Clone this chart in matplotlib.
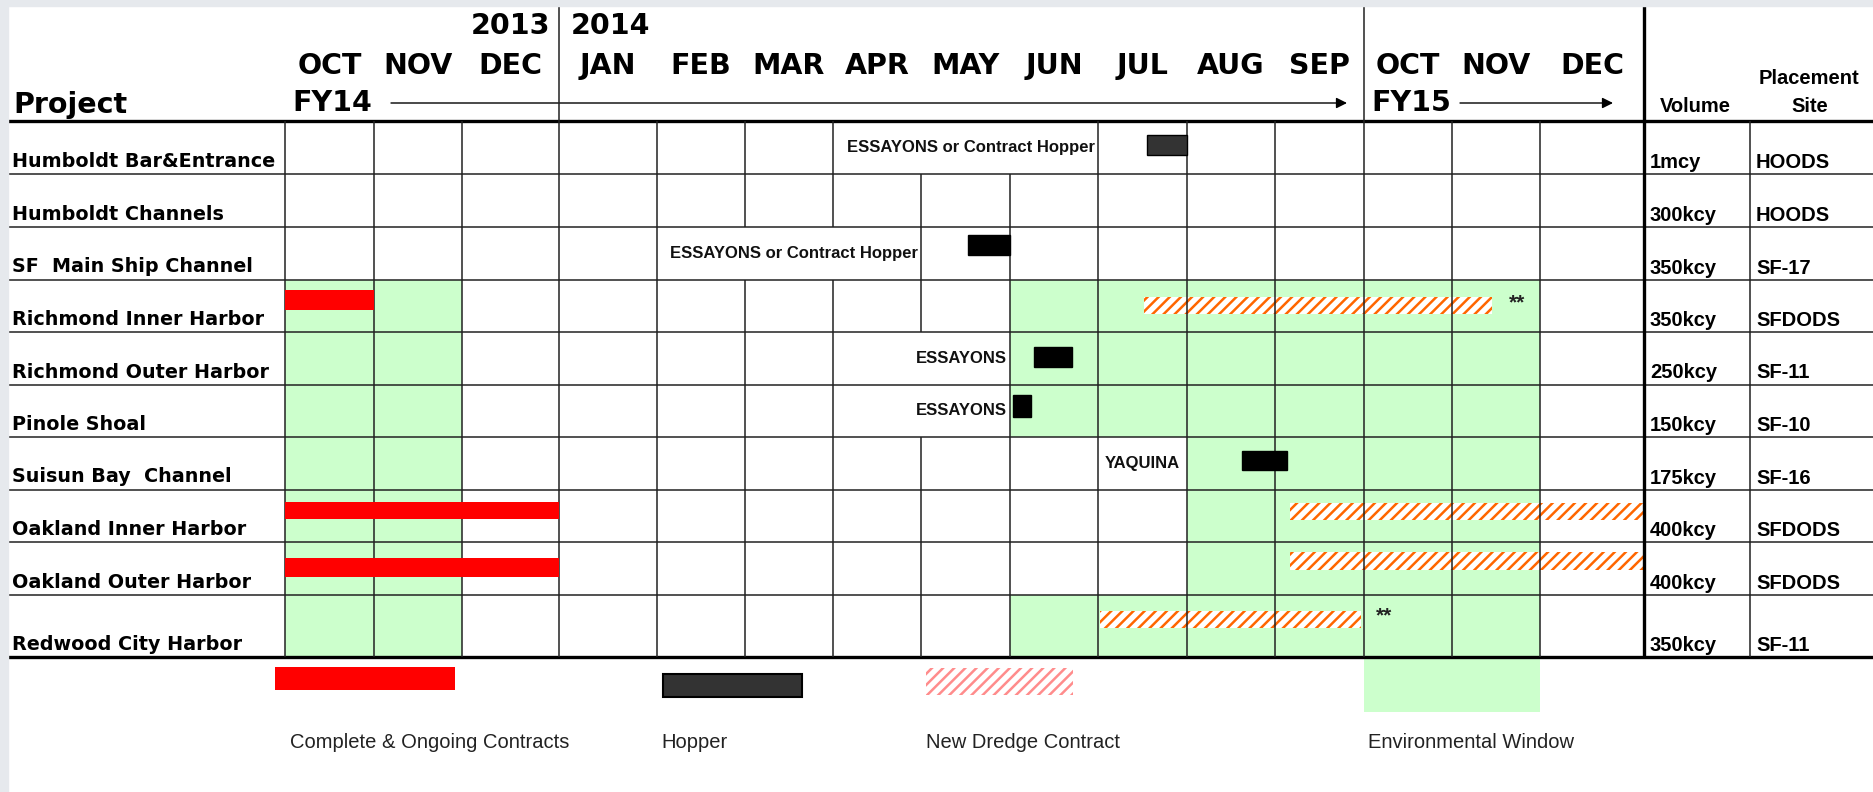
import numpy as np
import matplotlib
matplotlib.use('Agg')
import matplotlib.pyplot as plt
from matplotlib.patches import Rectangle

plt.rcParams['hatch.linewidth'] = 1.8

# --- schedule data (x in months from 1 Oct 2013, rows top to bottom) ---
months = ['OCT', 'NOV', 'DEC', 'JAN', 'FEB', 'MAR', 'APR', 'MAY', 'JUN',
          'JUL', 'AUG', 'SEP', 'OCT', 'NOV', 'DEC']
projects = ['Humboldt Bar&Entrance', 'Humboldt Channels', 'SF  Main Ship Channel',
            'Richmond Inner Harbor', 'Richmond Outer Harbor', 'Pinole Shoal',
            'Suisun Bay  Channel', 'Oakland Inner Harbor', 'Oakland Outer Harbor',
            'Redwood City Harbor']
volumes = ['1mcy', '300kcy', '350kcy', '350kcy', '250kcy', '150kcy', '175kcy',
           '400kcy', '400kcy', '350kcy']
sites = ['HOODS', 'HOODS', 'SF-17', 'SFDODS', 'SF-11', 'SF-10', 'SF-16',
         'SFDODS', 'SFDODS', 'SF-11']

env_rows = [3, 3, 4, 4, 5, 5, 6, 6, 7, 7, 8, 8, 9, 9]
env_start = [0, 8, 0, 8, 0, 8, 0, 10, 0, 10, 0, 10, 0, 8]
env_end = [2, 14, 2, 14, 2, 14, 2, 14, 2, 14, 2, 14, 2, 14]

contract_rows = [3, 7, 8]
contract_start = [0, 0, 0]
contract_end = [1, 3, 3]

hopper_rows = [0, 2, 4, 5, 6]
hopper_start = [9.55, 7.53, 8.27, 8.03, 10.62]
hopper_end = [10.0, 8.0, 8.70, 8.24, 11.13]
hopper_names = ['ESSAYONS or Contract Hopper', 'ESSAYONS or Contract Hopper',
                'ESSAYONS', 'ESSAYONS', 'YAQUINA']

new_rows = [3, 7, 8, 9]
new_start = [9.52, 11.17, 11.17, 9.02]
new_end = [13.45, 15.0, 15.0, 11.97]
new_notes = ['**', '', '', '**']

# --- layout (pixel grid of the table) ---
W, H = 1874, 792
col_m = np.arange(-1, 18)
col_px = np.array([8, 285, 374, 462, 559, 657, 745, 833, 921, 1010, 1098, 1187,
                   1275, 1364, 1452, 1540, 1644, 1750, 1874], float)
row_m = np.array([-2.3, 0, 1, 2, 3, 4, 5, 6, 7, 8, 9, 10, 12.57])
row_px = np.array([0, 121, 174, 227, 279.5, 332, 384.5, 437, 489.5, 542, 595, 657, 792])


def ypx(p):
    return np.interp(p, row_px, row_m)


hopper_y = [(0.26, 0.64), (0.15, 0.53), (0.28, 0.66), (0.20, 0.61), (0.26, 0.63)]
hopper_fc = ['#333333', 'black', 'black', 'black', 'black']
# label anchor: (x, ha, pixel offset)
hopper_lab = [(9, 'right', -3), (7, 'right', -3), (8, 'right', -3),
              (8, 'right', -3), (9, 'left', 7)]
contract_y = [(0.20, 0.58), (0.23, 0.57), (0.31, 0.66)]
new_y = [(0.33, 0.66), (0.25, 0.59), (0.18, 0.53), (0.25, 0.54)]
note_x = [13.65, None, None, 12.13]
merged = {(0, 7), (0, 8), (2, 5), (2, 6), (4, 7), (5, 7)}

GREEN = '#CCFFCC'
RED = '#FF0000'
ORANGE = '#FF6600'
HEAD = dict(family='DejaVu Sans', fontweight='bold', fontsize=20.5)
LAB = dict(family='DejaVu Sans', fontweight='bold', fontsize=13.8)
ARB = dict(family='Liberation Sans', fontweight='bold')

fig = plt.figure(figsize=(W / 100, H / 100), dpi=100)
fig.patches.append(Rectangle((0, 0), 8 / W, 1, transform=fig.transFigure,
                             color='#e6e9ed', zorder=0))
fig.patches.append(Rectangle((0, 1 - 6 / H), 1, 6 / H, transform=fig.transFigure,
                             color='#e6e9ed', zorder=0))

lay = fig.add_axes([0, 0, 1, 1])
lay.set_xlim(0, W)
lay.set_ylim(H, 0)
lay.axis('off')
lay.patch.set_visible(False)

ax = fig.add_axes([8 / W, 0, (W - 8) / W, 1])
ax.set_xscale('function', functions=(lambda v: np.interp(v, col_m, col_px),
                                     lambda p: np.interp(p, col_px, col_m)))
ax.set_yscale('function', functions=(lambda v: np.interp(v, row_m, row_px),
                                     lambda p: np.interp(p, row_px, row_m)))
ax.set_xlim(-1, 17)
ax.set_ylim(row_m[-1], row_m[0])
ax.axis('off')
ax.patch.set_visible(False)

# environmental windows
for r, s, e in zip(env_rows, env_start, env_end):
    ax.add_patch(Rectangle((s, r), e - s, 1, fc=GREEN, ec='none', zorder=1))

# new dredge contracts (hatched)
for r, s, e, (t, b), note, nx in zip(new_rows, new_start, new_end, new_y, new_notes, note_x):
    ax.add_patch(Rectangle((s, r + t), e - s, b - t, fc='white', ec=ORANGE,
                           hatch='///', lw=0, zorder=2))
    if note:
        ax.text(nx, r + (t + b) / 2 - 0.05, note, ha='left', va='center',
                fontsize=15, color='#222222', zorder=5, **ARB)

# grid lines
lc = '#222222'
ax.hlines(np.arange(1, 10), -1, 17, color=lc, lw=1.1, zorder=3)
ax.hlines([0, 10], -1, 17, color='black', lw=2.4, zorder=3)
for x in range(0, 15):
    for r in range(10):
        if (r, x) in merged:
            continue
        ax.vlines(x, r, r + 1, color=lc, lw=1.1, zorder=3)
ax.vlines([3, 12], ypx(5), 0, color=lc, lw=1.1, zorder=3)
ax.vlines(15, ypx(5), 10, color='black', lw=2.4, zorder=3)
ax.vlines(16, 0, 10, color=lc, lw=1.1, zorder=3)
ax.vlines(-1, 9, 10, color=lc, lw=1.1, zorder=3)

# complete & ongoing contracts
for r, s, e, (t, b) in zip(contract_rows, contract_start, contract_end, contract_y):
    ax.add_patch(Rectangle((s, r + t), e - s, b - t, fc=RED, ec='none', zorder=4))

# hopper dredges
for r, s, e, (t, b), fc, name, (lx, ha, off) in zip(hopper_rows, hopper_start, hopper_end,
                                                    hopper_y, hopper_fc, hopper_names,
                                                    hopper_lab):
    ax.add_patch(Rectangle((s, r + t), e - s, b - t, fc=fc, ec='black', lw=1,
                           zorder=4))
    ax.annotate(name, xy=(lx, r + 0.5), xytext=(off, 0), textcoords='offset pixels',
                ha=ha, va='center', fontsize=12, color='#111111', zorder=5,
                bbox=dict(fc='white', ec='none', pad=0.5), **ARB)

# row labels, volume, site
for i, (p, v, s) in enumerate(zip(projects, volumes, sites)):
    ax.annotate(p, xy=(-1, i + 1), xytext=(4.5, 7), textcoords='offset pixels',
                ha='left', va='baseline', color='black', **LAB)
    ax.annotate(v, xy=(15, i + 1), xytext=(6, 6), textcoords='offset pixels',
                ha='left', va='baseline', fontsize=14.5, color='black', **ARB)
    ax.annotate(s, xy=(16, i + 1), xytext=(6, 6), textcoords='offset pixels',
                ha='left', va='baseline', fontsize=14.5, color='black', **ARB)

# header
for i, m in enumerate(months):
    ax.text(i + 0.5, ypx(66), m, ha='center', va='center', **HEAD)
lay.text(13, 113, 'Project', ha='left', va='baseline', **HEAD)
lay.text(550, 26, '2013', ha='right', va='center', **HEAD)
lay.text(571, 26, '2014', ha='left', va='center', **HEAD)
lay.text(292, 103, 'FY14', ha='left', va='center', **HEAD)
lay.text(1371, 103, 'FY15', ha='left', va='center', **HEAD)
arrow = dict(arrowstyle='-|>', lw=1.0, color='black', mutation_scale=16,
             shrinkA=0, shrinkB=0)
lay.annotate('', xy=(1347, 103), xytext=(391, 103), arrowprops=arrow)
lay.annotate('', xy=(1613, 103), xytext=(1460, 103), arrowprops=arrow)
lay.text(1695, 107, 'Volume', ha='center', va='center', fontsize=14.5, **ARB)
lay.text(1809, 78, 'Placement', ha='center', va='center', fontsize=14.5, **ARB)
lay.text(1810, 106, 'Site', ha='center', va='center', fontsize=14.5, **ARB)

# legend
lay.add_patch(Rectangle((275, 667), 180, 23, fc=RED, ec='none'))
lay.add_patch(Rectangle((663, 674), 139, 23, fc='#333333', ec='black', lw=1.5))
lay.add_patch(Rectangle((926, 668), 147, 27, fc='white', ec='#FF8C8C', hatch='///', lw=0))
lay.add_patch(Rectangle((1364, 659), 176, 53, fc=GREEN, ec='none'))
leg = dict(family='Liberation Sans', fontsize=14.5, color='#222222', va='center', ha='left')
lay.text(290, 742, 'Complete & Ongoing Contracts', **leg)
lay.text(661, 742, 'Hopper', **leg)
lay.text(926, 742, 'New Dredge Contract', **leg)
lay.text(1368, 742, 'Environmental Window', **leg)

fig.savefig('out.png', dpi=100)
